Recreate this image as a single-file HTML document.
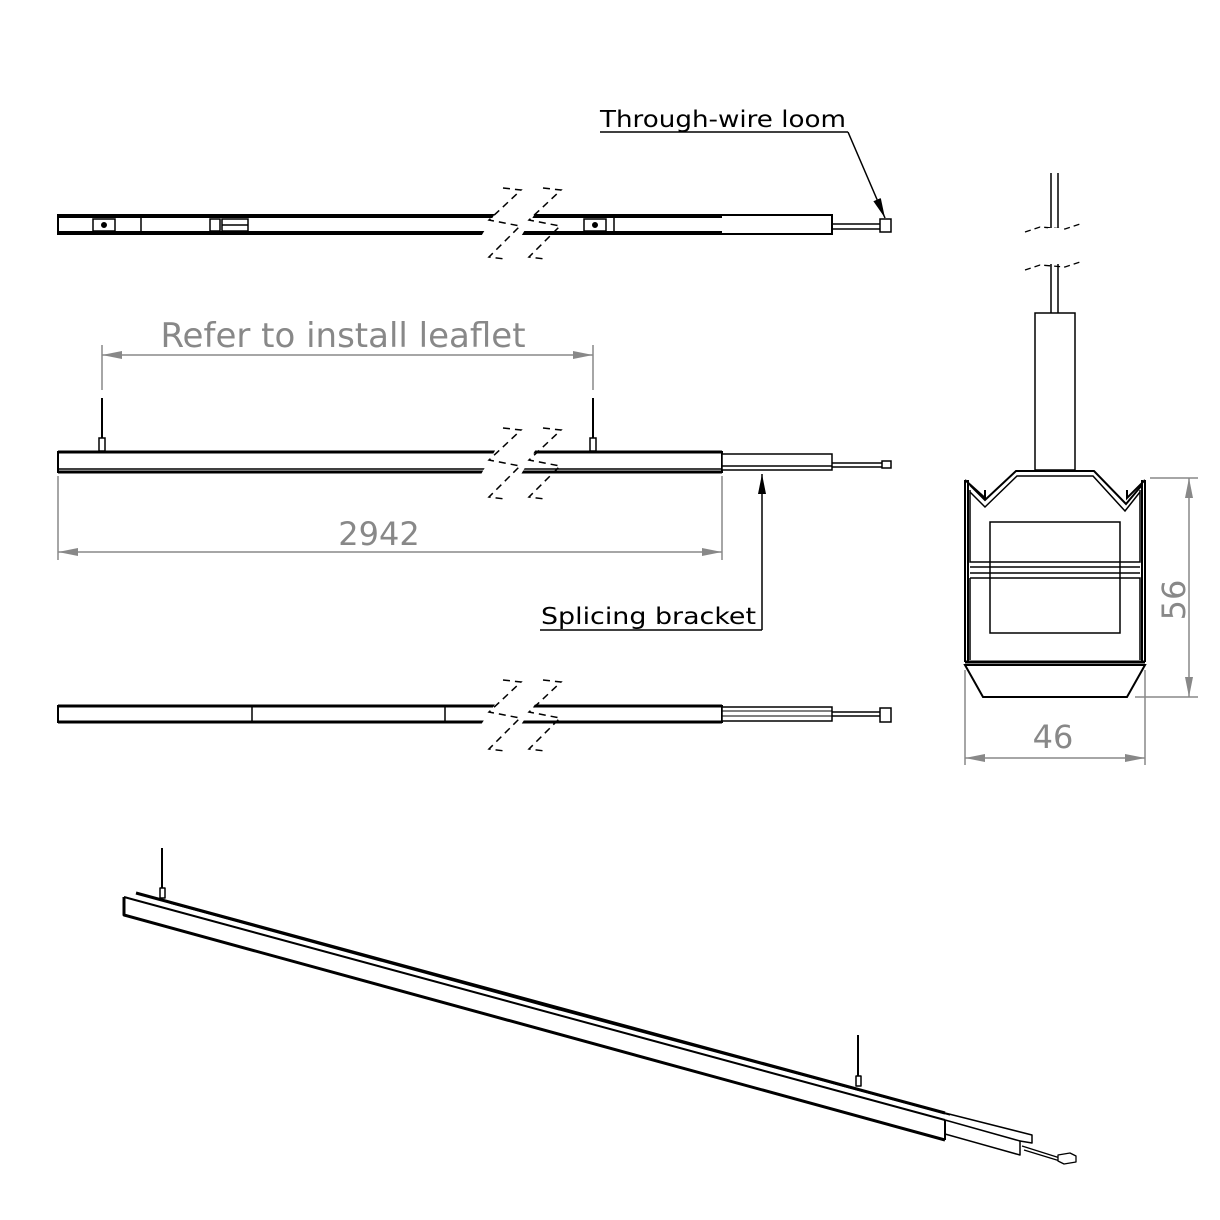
<!DOCTYPE html>
<html><head><meta charset="utf-8"><style>
html,body{margin:0;padding:0;background:#fff}
svg{display:block}
text{font-family:"DejaVu Sans","Liberation Sans",sans-serif}
</style></head><body>
<svg width="1220" height="1220" viewBox="0 0 1220 1220" xmlns="http://www.w3.org/2000/svg">
<defs>
<marker id="ag" viewBox="0 0 20 8" refX="20" refY="4" markerWidth="20" markerHeight="8" markerUnits="userSpaceOnUse" orient="auto-start-reverse"><path d="M0,0L20,4L0,8z" fill="#888"/></marker>
<marker id="ak" viewBox="0 0 20 8" refX="20" refY="4" markerWidth="20" markerHeight="8" markerUnits="userSpaceOnUse" orient="auto-start-reverse"><path d="M0,0L20,4L0,8z" fill="#000"/></marker>
<g id="brk" fill="none" stroke="#000" stroke-width="1.5" stroke-dasharray="7,5">
<path d="M503,428L521,430L489,460L520,466L489,497L505,499"/>
<path d="M543,428L561,430L529,460L560,466L529,497L545,499"/>
</g>
</defs>

<!-- TOP VIEW -->
<g stroke="#000" fill="#fff">
<rect x="58" y="215" width="774" height="19" stroke-width="2"/>
<line x1="58" y1="216" x2="722" y2="216" stroke-width="4"/>
<line x1="58" y1="233" x2="722" y2="233" stroke-width="4"/>
<rect x="93" y="219" width="22" height="12" stroke-width="1.5"/>
<circle cx="104" cy="225" r="2.5" fill="#000"/>
<rect x="584" y="219" width="22" height="12" stroke-width="1.5"/>
<circle cx="595" cy="225" r="2.5" fill="#000"/>
<line x1="141" y1="218" x2="141" y2="232" stroke-width="1.5"/>
<rect x="210" y="219" width="10" height="12" stroke-width="1.5"/>
<rect x="222" y="219" width="26" height="12" stroke-width="1.5"/>
<line x1="222" y1="225" x2="248" y2="225" stroke-width="1.5"/>
<line x1="614" y1="218" x2="614" y2="232" stroke-width="1.5"/>
<line x1="832" y1="224" x2="880" y2="224" stroke-width="1.5"/>
<line x1="832" y1="229" x2="880" y2="229" stroke-width="1.5"/>
<rect x="880" y="219" width="11" height="13" stroke-width="1.5"/>
</g>
<polygon points="496,212 536,212 520,238 480,238" fill="#fff"/>
<use href="#brk" transform="translate(0,-240)"/>

<text x="600" y="127" font-size="23" fill="#000" textLength="246" lengthAdjust="spacingAndGlyphs">Through-wire loom</text>
<line x1="600" y1="132" x2="848" y2="132" stroke="#000" stroke-width="1.5"/>
<line x1="848" y1="132" x2="885" y2="218" stroke="#000" stroke-width="1.5" marker-end="url(#ak)"/>

<!-- MIDDLE VIEW -->
<text x="343" y="347" font-size="34" fill="#888" text-anchor="middle">Refer to install leaflet</text>
<g stroke="#888" stroke-width="1.5">
<line x1="102" y1="345" x2="102" y2="390"/><line x1="593" y1="345" x2="593" y2="390"/>
<line x1="102" y1="355" x2="593" y2="355" marker-end="url(#ag)" marker-start="url(#ag)"/>
<line x1="58" y1="476" x2="58" y2="560"/><line x1="722" y1="476" x2="722" y2="560"/>
<line x1="58" y1="552" x2="722" y2="552" marker-end="url(#ag)" marker-start="url(#ag)"/>
</g>
<g stroke="#000" fill="#fff">
<line x1="102" y1="398" x2="102" y2="440" stroke-width="2"/>
<rect x="99" y="438" width="6" height="13" stroke-width="1.5"/>
<line x1="593" y1="398" x2="593" y2="440" stroke-width="2"/>
<rect x="590" y="438" width="6" height="13" stroke-width="1.5"/>
<rect x="58" y="452" width="664" height="20" stroke-width="2"/>
<line x1="58" y1="452" x2="722" y2="452" stroke-width="3"/>
<line x1="58" y1="469" x2="722" y2="469" stroke-width="1.5"/>
<line x1="58" y1="472" x2="722" y2="472" stroke-width="3"/>
<rect x="722" y="454" width="110" height="16" stroke-width="1.5"/>
<line x1="722" y1="466" x2="832" y2="466" stroke-width="1.5"/>
<line x1="832" y1="463" x2="882" y2="463" stroke-width="1.5"/>
<line x1="832" y1="467" x2="882" y2="467" stroke-width="1.5"/>
<rect x="882" y="461" width="9" height="7" stroke-width="1.5"/>
</g>
<polygon points="496,449 536,449 520,476 480,476" fill="#fff"/>
<use href="#brk"/>
<text x="379" y="545" font-size="32" fill="#888" text-anchor="middle">2942</text>
<line x1="762" y1="630" x2="762" y2="474" stroke="#000" stroke-width="1.5" marker-end="url(#ak)"/>
<line x1="540" y1="630" x2="762" y2="630" stroke="#000" stroke-width="1.5"/>
<text x="541" y="624" font-size="23" fill="#000" textLength="215" lengthAdjust="spacingAndGlyphs">Splicing bracket</text>

<!-- BOTTOM VIEW -->
<g stroke="#000" fill="#fff">
<rect x="58" y="706" width="664" height="16" stroke-width="2"/>
<line x1="58" y1="706" x2="722" y2="706" stroke-width="3"/>
<line x1="58" y1="722" x2="722" y2="722" stroke-width="3"/>
<line x1="252" y1="706" x2="252" y2="722" stroke-width="1.5"/>
<line x1="445" y1="706" x2="445" y2="722" stroke-width="1.5"/>
<rect x="722" y="707" width="110" height="14" stroke-width="1.5"/>
<line x1="722" y1="711" x2="832" y2="711" stroke-width="1"/>
<line x1="722" y1="716" x2="832" y2="716" stroke-width="1"/>
<line x1="832" y1="712" x2="880" y2="712" stroke-width="1.5"/>
<line x1="832" y1="716" x2="880" y2="716" stroke-width="1.5"/>
<rect x="880" y="708" width="11" height="14" stroke-width="1.5"/>
</g>
<polygon points="496,703 536,703 520,726 480,726" fill="#fff"/>
<use href="#brk" transform="translate(0,252)"/>

<!-- CROSS SECTION -->
<g stroke="#000" fill="none" stroke-width="1.5">
<line x1="1051" y1="173" x2="1051" y2="313"/><line x1="1058" y1="173" x2="1058" y2="313"/>
<rect x="1035" y="313" width="40" height="157" fill="#fff"/>
<path d="M965,480L965,662M968,480L968,662" stroke-width="2"/>
<path d="M1145,480L1145,662M1142,480L1142,662" stroke-width="2"/>
<path d="M965,480L985,498L985,490M1145,480L1127,498L1127,490" stroke-width="2"/>
<path d="M970,485L985,500L1016,471L1094,471L1126,504L1142,485" stroke-width="2"/>
<path d="M970,492L985,507L1017,476L1093,476L1125,511L1140,492"/>
<path d="M970,490L970,562L1140,562L1140,490"/>
<path d="M970,567L1140,567M970,573L1140,573"/>
<path d="M970,578L1140,578L1140,660M970,578L970,660"/>
<rect x="990" y="522" width="130" height="111"/>
<path d="M965,662L1145,662" stroke-width="3"/>
<path d="M965,665L983,697L1127,697L1145,665Z" stroke-width="2" fill="#fff"/>
</g>
<g fill="none" stroke="#000" stroke-width="1.3" stroke-dasharray="6,4">
<path d="M1025,232L1040,227L1065,229L1080,224"/>
<path d="M1025,270L1040,265L1065,267L1080,262"/>
</g>
<rect x="1048" y="228" width="14" height="36" fill="#fff"/>
<g stroke="#888" stroke-width="1.5">
<line x1="1150" y1="478" x2="1198" y2="478"/><line x1="1135" y1="697" x2="1198" y2="697"/>
<line x1="1189" y1="478" x2="1189" y2="697" marker-end="url(#ag)" marker-start="url(#ag)"/>
<line x1="965" y1="670" x2="965" y2="765"/><line x1="1145" y1="670" x2="1145" y2="765"/>
<line x1="965" y1="758" x2="1145" y2="758" marker-end="url(#ag)" marker-start="url(#ag)"/>
</g>
<text x="1053" y="748" font-size="32" fill="#888" text-anchor="middle">46</text>
<text transform="translate(1185,600) rotate(-90)" font-size="32" fill="#888" text-anchor="middle">56</text>

<!-- PERSPECTIVE -->
<g stroke="#000" fill="none" stroke-linejoin="round">
<line x1="162" y1="848" x2="162" y2="890" stroke-width="2"/>
<rect x="160" y="888" width="5" height="10" stroke-width="1.5" fill="#fff"/>
<line x1="858" y1="1035" x2="858" y2="1078" stroke-width="2"/>
<rect x="856" y="1076" width="5" height="10" stroke-width="1.5" fill="#fff"/>
<path d="M136,893L945,1113" stroke-width="3"/>
<path d="M124,897L124,915L945,1140" stroke-width="3"/>
<path d="M124,897L945,1120" stroke-width="2"/>
<path d="M170,903L560,1010" stroke-width="1.5"/>
<path d="M560,1010L950,1115" stroke-width="1.2"/>
<path d="M945,1120L945,1140" stroke-width="2"/>
<path d="M945,1120L1020,1141L1020,1155L945,1134" stroke-width="1.5"/>
<path d="M945,1113L1032,1135L1032,1143L1020,1141" stroke-width="1.5"/>
<path d="M1022,1146L1060,1158M1024,1150L1060,1161" stroke-width="1.3"/>
<path d="M1058,1155L1070,1153L1076,1156L1076,1162L1064,1164L1058,1161Z" stroke-width="1.3" fill="#fff"/>
</g>
</svg>
</body></html>
